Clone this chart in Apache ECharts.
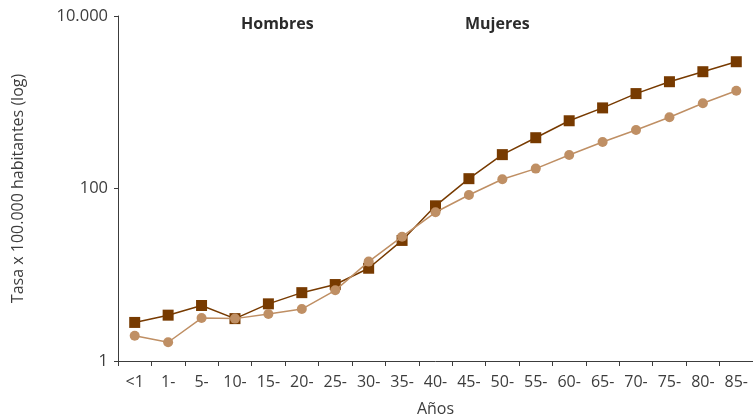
<!DOCTYPE html>
<html>
<head>
<meta charset="utf-8">
<script src="https://cdn.jsdelivr.net/npm/echarts@6/dist/echarts.min.js"></script>
<style>
  html, body { margin: 0; padding: 0; background: #fff; }
  #chart { width: 753px; height: 415px; }
</style>
</head>
<body>
<div id="chart"></div>
<script>
// Age groups (years)
var categories = ['<1', '1-', '5-', '10-', '15-', '20-', '25-', '30-', '35-', '40-',
  '45-', '50-', '55-', '60-', '65-', '70-', '75-', '80-', '85-'];

// Rate per 100,000 inhabitants
var hombres = [2.8, 3.4, 4.4, 3.1, 4.6, 6.2, 7.7, 11.9, 25, 63,
  130, 247, 388, 610, 860, 1260, 1730, 2260, 2950];
var mujeres = [1.96, 1.65, 3.15, 3.1, 3.5, 4.0, 6.6, 14.2, 27.6, 53,
  84, 128, 170, 245, 346, 477, 670, 973, 1360];

var yTicks = [1, 100, 10000];

var textColor = '#3d3d3d';
var font = '"Open Sans", "Noto Sans", sans-serif';

function fmtThousands(v) {
  return String(Math.round(v)).replace(/\B(?=(\d{3})+(?!\d))/g, '.');
}

var chart = echarts.init(document.getElementById('chart'), null, { renderer: 'canvas' });

chart.setOption({
  animation: false,
  backgroundColor: '#ffffff',
  textStyle: { fontFamily: font, color: textColor },
  grid: { left: 118, right: 0, top: 16, bottom: 54, containLabel: false, outerBoundsMode: 'none' },
  legend: [
    {
      data: ['Hombres'], left: 231, top: 11, icon: 'none', itemWidth: 0, itemGap: 0,
      textStyle: { fontFamily: font, fontSize: 16, fontWeight: 'bold', color: '#2b2b2b' },
      selectedMode: false
    },
    {
      data: ['Mujeres'], left: 455, top: 11, icon: 'none', itemWidth: 0, itemGap: 0,
      textStyle: { fontFamily: font, fontSize: 16, fontWeight: 'bold', color: '#2b2b2b' },
      selectedMode: false
    }
  ],
  xAxis: {
    type: 'category',
    data: categories,
    boundaryGap: true,
    name: 'Años',
    nameLocation: 'middle',
    nameGap: 40,
    nameTextStyle: { fontFamily: font, fontSize: 16, color: textColor },
    axisLine: { lineStyle: { color: '#3c3c3c', width: 1 } },
    axisTick: { show: true, alignWithLabel: false, length: 5, lineStyle: { color: '#3c3c3c' } },
    axisLabel: { fontFamily: font, fontSize: 16, color: textColor, margin: 13, interval: 0 },
    splitLine: { show: false }
  },
  yAxis: {
    type: 'log',
    logBase: 100,
    min: yTicks[0],
    max: yTicks[yTicks.length - 1],
    name: 'Tasa x 100.000 habitantes (log)',
    nameLocation: 'middle',
    nameGap: 92,
    nameTextStyle: { fontFamily: font, fontSize: 16, color: textColor },
    axisLine: { show: true, lineStyle: { color: '#3c3c3c', width: 1 } },
    axisTick: { show: true, length: 4, lineStyle: { color: '#3c3c3c' } },
    axisLabel: {
      fontFamily: font, fontSize: 16.5, color: textColor, margin: 10,
      formatter: function (v) { return fmtThousands(v); }
    },
    splitLine: { show: false },
    minorTick: { show: false }
  },
  series: [
    {
      name: 'Hombres',
      type: 'line',
      data: hombres,
      symbol: 'rect',
      symbolSize: 11,
      itemStyle: { color: '#773a00' },
      lineStyle: { color: '#773a00', width: 1.5 },
      z: 2
    },
    {
      name: 'Mujeres',
      type: 'line',
      data: mujeres,
      symbol: 'circle',
      symbolSize: 10,
      itemStyle: { color: '#bf8f64' },
      lineStyle: { color: '#bf8f64', width: 1.5 },
      z: 3
    }
  ]
});
</script>
</body>
</html>
